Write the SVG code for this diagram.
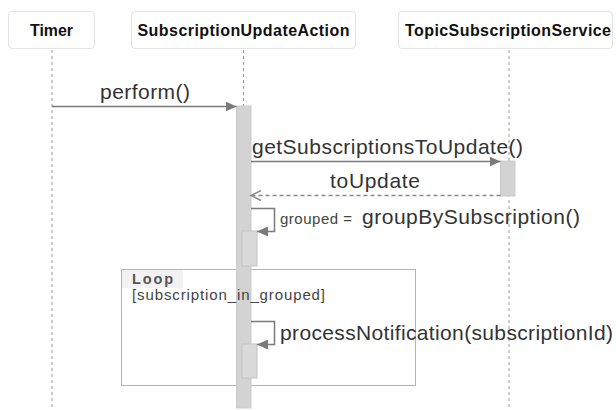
<svg xmlns="http://www.w3.org/2000/svg" width="616" height="410" viewBox="0 0 616 410">
  <style>
    text { font-family: "Liberation Sans", Arial, sans-serif; }
    .head { fill: #ffffff; stroke: #e4e4e4; stroke-width: 1.2; }
    .head-label { font-size: 16px; font-weight: bold; fill: #111111; text-anchor: middle; }
    .life { stroke: #9a9a9a; stroke-width: 1; stroke-dasharray: 3 3; fill: none; }
    .act { fill: #d3d3d3; stroke: #cbcbcb; stroke-width: 1; }
    .act-nested { fill: #dadada; stroke: #c4c4c4; stroke-width: 1; }
    .msg { stroke: #7a7a7a; stroke-width: 1.5; fill: none; }
    .ret { stroke: #8a8a8a; stroke-width: 1.5; fill: none; stroke-dasharray: 4 3; }
    .msg-label { font-size: 21px; fill: #333333; }
    .small-label { font-size: 15px; fill: #444444; }
    .frame { fill: none; stroke: #b4b4b4; stroke-width: 1; }
    .frame-tab { fill: #f2f2f2; stroke: none; }
    .frame-title { font-size: 14.5px; font-weight: bold; fill: #555555; }
  </style>
  <defs>
    <marker id="solid" markerUnits="userSpaceOnUse" markerWidth="12" markerHeight="10" refX="11" refY="5" orient="auto">
      <path d="M0,0 L11,5 L0,10 Z" fill="#7a7a7a"/>
    </marker>
    <marker id="open" markerUnits="userSpaceOnUse" markerWidth="13" markerHeight="12" refX="11" refY="6" orient="auto">
      <path d="M1,1 L11,6 L1,11" fill="none" stroke="#8a8a8a" stroke-width="1.5"/>
    </marker>
  </defs>

  <!-- participants -->
  <g id="timer">
    <rect class="head" x="8.5" y="11.5" width="86" height="37" rx="4"/>
    <text class="head-label" x="51.5" y="36" textLength="43" lengthAdjust="spacingAndGlyphs">Timer</text>
    <line class="life" x1="52" y1="50" x2="52" y2="410"/>
  </g>
  <g id="subscriptionUpdateAction">
    <rect class="head" x="131.5" y="11.5" width="224" height="37" rx="4"/>
    <text class="head-label" x="243.5" y="36" textLength="212" lengthAdjust="spacing">SubscriptionUpdateAction</text>
    <line class="life" x1="243.5" y1="50" x2="243.5" y2="410"/>
  </g>
  <g id="topicSubscriptionService">
    <rect class="head" x="398.5" y="11.5" width="214" height="37" rx="4"/>
    <text class="head-label" x="508" y="36" textLength="206" lengthAdjust="spacing">TopicSubscriptionService</text>
    <line class="life" x1="509" y1="50" x2="509" y2="410"/>
  </g>

  <!-- loop fragment -->
  <g id="loop">
    <rect class="frame" x="121.5" y="269.5" width="294" height="116"/>
    <rect class="frame-tab" x="122" y="270" width="61" height="18"/>
    <text class="frame-title" x="132" y="283.5" textLength="41" lengthAdjust="spacing">Loop</text>
  </g>

  <!-- activations -->
  <g id="activations">
    <rect class="act" x="236.5" y="106" width="14.5" height="302"/>
    <rect class="act" x="500.5" y="161" width="14.5" height="35"/>
    <rect class="act-nested" x="242" y="231" width="15" height="35"/>
    <rect class="act-nested" x="242" y="344" width="15" height="34"/>
  </g>

  <!-- messages -->
  <g id="connectors">
    <line class="msg" x1="52" y1="106.5" x2="236.5" y2="106.5" marker-end="url(#solid)"/>
    <line class="msg" x1="251" y1="161.5" x2="500.5" y2="161.5" marker-end="url(#solid)"/>
    <line class="ret" x1="500.5" y1="195.5" x2="251" y2="195.5" marker-end="url(#open)"/>
    <path class="msg" d="M251,208.5 H274.5 V231.5 H257" marker-end="url(#solid)"/>
    <path class="msg" d="M251,321.5 H274.5 V344.5 H257" marker-end="url(#solid)"/>
  </g>

  <g id="labels">
    <text class="small-label" x="132" y="300" textLength="193" lengthAdjust="spacing">[subscription_in_grouped]</text>
    <text class="msg-label" x="145" y="99" text-anchor="middle" textLength="90" lengthAdjust="spacing">perform()</text>
    <text class="msg-label" x="252" y="153.5" textLength="271" lengthAdjust="spacing">getSubscriptionsToUpdate()</text>
    <text class="msg-label" x="375" y="188" text-anchor="middle" textLength="90" lengthAdjust="spacing">toUpdate</text>
    <text class="small-label" x="280" y="224" textLength="72" lengthAdjust="spacing">grouped =</text>
    <text class="msg-label" x="362" y="224" textLength="218" lengthAdjust="spacing">groupBySubscription()</text>
    <text class="msg-label" x="280" y="340" textLength="333" lengthAdjust="spacing">processNotification(subscriptionId)</text>
  </g>
</svg>
